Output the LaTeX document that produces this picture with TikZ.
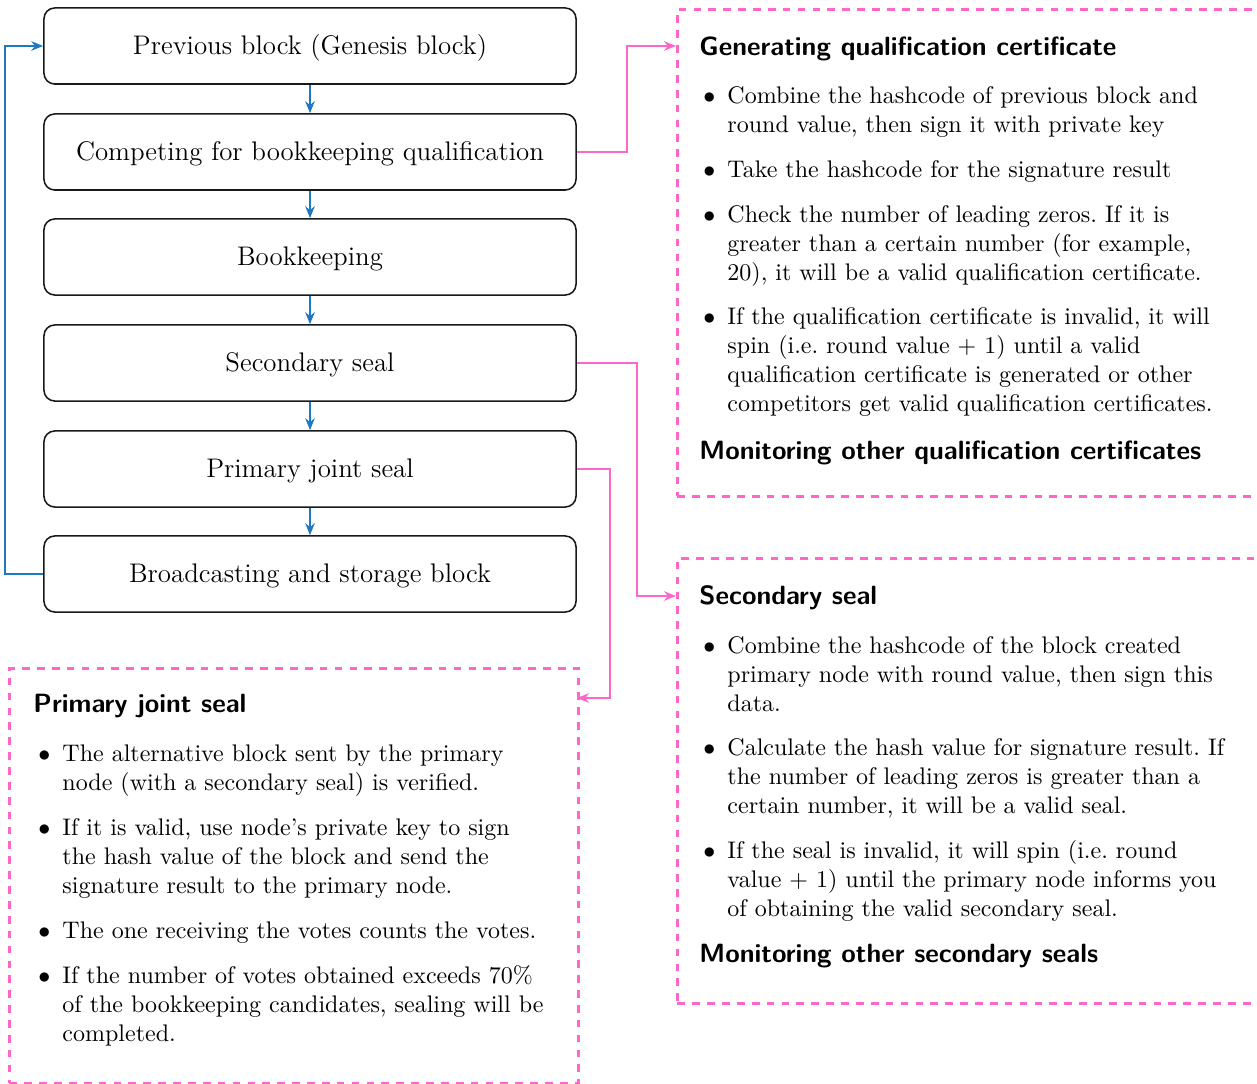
\documentclass[tikz,border=0pt]{standalone}
\usetikzlibrary{arrows.meta}
\definecolor{flowblue}{RGB}{31,120,196}
\definecolor{flowpink}{RGB}{255,102,204}
\begin{document}
\frenchspacing
\begin{tikzpicture}[x=0.41667pt,y=-0.41667pt,
  stepbox/.style={draw=black!90, line width=0.65pt, rounded corners=4.5pt, minimum width=221.7pt, minimum height=31.7pt, inner sep=0pt, font=\fontsize{11.2}{13.4}\selectfont},
  blueflow/.style={draw=flowblue, line width=0.65pt, -{Stealth[length=5pt,width=4pt]}},
  pinkflow/.style={draw=flowpink, line width=0.65pt, -{Stealth[length=5pt,width=4pt]}},
  panel/.style={draw=flowpink, line width=1.2pt, dash pattern=on 3.2pt off 3pt, inner sep=0pt, anchor=north west},
  head/.style={anchor=base west, inner sep=0pt, font=\fontsize{11}{13}\sffamily\bfseries},
  bulletitem/.style={anchor=base west, inner sep=0pt, text width=215pt, align=left, font=\fontsize{10}{12}\selectfont}]
\newcommand{\bul}{\llap{$\bullet$\hspace{5pt}}}
\newcommand{\lowtext}[1]{\raisebox{-0.9pt}[\height][\depth]{#1}}
\useasboundingbox (0,0) rectangle (1257,1084);
\clip (0,0) rectangle (1257,1084);

% left column
\node[stepbox] (b1) at (310,46) {\lowtext{Previous block (Genesis block)}};
\node[stepbox] (b2) at (310,152) {\lowtext{Competing for bookkeeping qualification}};
\node[stepbox] (b3) at (310,257) {\lowtext{Bookkeeping}};
\node[stepbox] (b4) at (310,363) {\lowtext{Secondary seal}};
\node[stepbox] (b5) at (310,469) {\lowtext{Primary joint seal}};
\node[stepbox] (b6) at (310,574) {\lowtext{Broadcasting and storage block}};

\draw[blueflow] (b1) -- (b2);
\draw[blueflow] (b2) -- (b3);
\draw[blueflow] (b3) -- (b4);
\draw[blueflow] (b4) -- (b5);
\draw[blueflow] (b5) -- (b6);
\draw[blueflow] (b6.west) -- ++(-38,0) |- (b1.west);

% panels
\node[panel, minimum width=260pt, minimum height=202.9pt] (p1) at (676,8) {};
\node[panel, minimum width=260pt, minimum height=185.4pt] (p2) at (676,557) {};
\node[panel, minimum width=237.1pt, minimum height=172.9pt] (p3) at (8,667) {};

\coordinate (p1in) at (p1.west |- b1.center);
\coordinate (p2in) at (676,596);
\coordinate (p3in) at (577,698);

\draw[pinkflow] (b2.east) -- ++(50,0) |- (p1in);
\draw[pinkflow] (b4.east) -- ++(60,0) |- (p2in);
\draw[pinkflow] (b5.east) -- ++(33,0) |- (p3in);

% panel 1 text
\node[head] (h1) at (699,56) {Generating qualification certificate};
\node[bulletitem] (i11) at (727,104) {\bul Combine the hashcode of previous block and\\round value, then sign it with private key};
\node[bulletitem] (i12) at (727,178) {\bul Take the hashcode for the signature result};
\node[bulletitem] (i13) at (727,223) {\bul Check the number of leading zeros. If it is\\greater than a certain number (for example,\\20), it will be a valid qualification certificate.};
\node[bulletitem] (i14) at (727,325) {\bul If the qualification certificate is invalid, it will\\spin (i.e. round value $+$ 1) until a valid\\qualification certificate is generated or other\\competitors get valid qualification certificates.};
\node[head] (h2) at (699,460) {Monitoring other qualification certificates};

% panel 2 text
\node[head] (h3) at (699,605) {Secondary seal};
\node[bulletitem] (i21) at (727,654) {\bul Combine the hashcode of the block created\\primary node with round value, then sign this\\data.};
\node[bulletitem] (i22) at (727,756) {\bul Calculate the hash value for signature result. If\\the number of leading zeros is greater than a\\certain number, it will be a valid seal.};
\node[bulletitem] (i23) at (727,859) {\bul If the seal is invalid, it will spin (i.e. round\\value $+$ 1) until the primary node informs you\\of obtaining the valid secondary seal.};
\node[head] (h4) at (699,962) {Monitoring other secondary seals};

% panel 3 text
\node[head] (h5) at (33,713) {Primary joint seal};
\node[bulletitem] (i31) at (62,762) {\bul The alternative block sent by the primary\\node (with a secondary seal) is verified.};
\node[bulletitem] (i32) at (62,836) {\bul If it is valid, use node's private key to sign\\the hash value of the block and send the\\signature result to the primary node.};
\node[bulletitem] (i33) at (62,939) {\bul The one receiving the votes counts the votes.};
\node[bulletitem] (i34) at (62,984) {\bul If the number of votes obtained exceeds 70\%\\of the bookkeeping candidates, sealing will be\\completed.};
\end{tikzpicture}
\end{document}
